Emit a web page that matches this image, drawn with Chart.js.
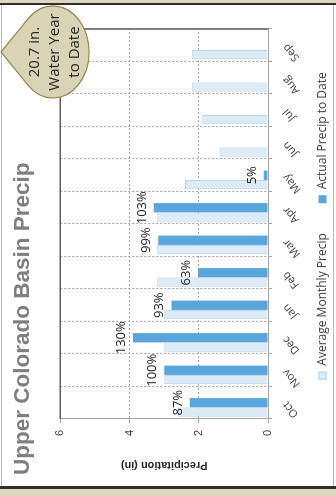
<!DOCTYPE html>
<html>
<head>
<meta charset="utf-8">
<title>Upper Colorado Basin Precip</title>
<script src="https://cdn.jsdelivr.net/npm/chart.js@4.4.1/dist/chart.umd.min.js"></script>
<style>
  html, body { margin: 0; padding: 0; background: #fff; overflow: hidden; }
  /* chart is laid out landscape and turned a quarter to stand in the portrait slot */
  #wrap {
    position: absolute; left: 0; top: 0;
    width: 496px; height: 336px;
    transform-origin: 0 0;
    transform: translate(0, 496px) rotate(-90deg);
  }
</style>
</head>
<body>
<div id="wrap"><canvas id="chart" width="496" height="336"></canvas></div>
<script>
// ─── Data ───────────────────────────────────────────────────
const MONTHS        = ["Oct", "Nov", "Dec", "Jan", "Feb", "Mar", "Apr", "May", "Jun", "Jul", "Aug", "Sep"];
const AVG_PRECIP    = [2.6, 3.0, 3.0, 3.0, 3.2, 3.2, 3.2, 2.4, 1.4, 1.9, 2.2, 2.2];
const ACTUAL_PRECIP = [2.26, 3.0, 3.9, 2.79, 2.02, 3.17, 3.3, 0.12, null, null, null, null];
const Y_TICKS       = [0, 2, 4, 6];
const CALLOUT_LINES = ["20.7 in.", "Water Year", "to Date"];

// percent of average, written over each actual bar
const PCT_LABELS = ACTUAL_PRECIP.map((v, i) =>
  v == null ? null : Math.round(v / AVG_PRECIP[i] * 100) + "%");

const GRID_GREY = "#a6a6a6";
const TEXT_DARK = "#404040";

// ─── Plugins ────────────────────────────────────────────────
const panel = {
  id: "panel",
  beforeDraw(chart) {
    const { ctx, width, height } = chart;
    ctx.save();
    ctx.fillStyle = "#fff";
    ctx.fillRect(0, 0, width, height);
    ctx.fillStyle = "#dcd7c1";
    ctx.fillRect(0, 0, 8, height);
    ctx.fillRect(width - 4, 0, 4, height);
    ctx.fillStyle = "#2e2e2e";
    ctx.fillRect(7, 0, 3, height);
    ctx.fillRect(width - 5, 0, 2, height);
    ctx.fillStyle = "#bdbdbd";
    ctx.fillRect(10, 1, width - 15, 1);
    ctx.fillRect(10, height - 3, width - 15, 1);
    ctx.restore();
  }
};

const plotFrame = {
  id: "plotFrame",
  beforeDatasetsDraw(chart) {
    const { ctx, chartArea: a } = chart;
    ctx.save();
    ctx.strokeStyle = "#5f5f5f";
    ctx.lineWidth = 1.5;
    ctx.beginPath();
    ctx.moveTo(a.left, a.top);
    ctx.lineTo(a.right, a.top);
    ctx.lineTo(a.right, a.bottom);
    ctx.stroke();
    ctx.restore();
  }
};

const pctLabels = {
  id: "pctLabels",
  afterDatasetsDraw(chart) {
    const { ctx } = chart;
    const meta = chart.getDatasetMeta(1);
    ctx.save();
    ctx.font = "13px 'Open Sans'";
    ctx.fillStyle = "#262626";
    ctx.textAlign = "center";
    ctx.textBaseline = "alphabetic";
    meta.data.forEach((bar, i) => {
      if (PCT_LABELS[i]) ctx.fillText(PCT_LABELS[i], bar.x, bar.y - 8);
    });
    ctx.restore();
  }
};

// legend row under the month labels, centred on the plot
const bottomLegend = {
  id: "bottomLegend",
  afterDraw(chart) {
    const { ctx, chartArea: a } = chart;
    const items = chart.data.datasets.slice(0, 2);
    const gap = 30, y = 322.5;
    ctx.save();
    ctx.font = "12px 'Open Sans'";
    const widths = items.map(ds => 14 + ctx.measureText(ds.label).width);
    const total = widths.reduce((s, w) => s + w, 0) + gap * (items.length - 1);
    let x = (a.left + a.right - total) / 2 - 2;
    items.forEach((ds, i) => {
      ctx.fillStyle = ds.backgroundColor;
      ctx.fillRect(x, y - 4, 8, 8);
      if (ds.borderWidth) {
        ctx.strokeStyle = ds.borderColor;
        ctx.lineWidth = 1;
        ctx.strokeRect(x + 0.5, y - 3.5, 7, 7);
      }
      ctx.fillStyle = TEXT_DARK;
      ctx.textAlign = "left";
      ctx.textBaseline = "middle";
      ctx.fillText(ds.label, x + 14, y);
      x += widths[i] + gap;
    });
    ctx.restore();
  }
};

// teardrop callout in the top right corner
const callout = {
  id: "callout",
  afterDraw(chart) {
    const { ctx } = chart;
    const cx = 444, cy = 53, rx = 46, ry = 36, tipY = 1;
    const t1 = Math.asin(-ry / (cy - tipY));
    ctx.save();
    ctx.beginPath();
    ctx.moveTo(cx, tipY);
    ctx.lineTo(cx + rx * Math.cos(t1), cy + ry * Math.sin(t1));
    ctx.ellipse(cx, cy, rx, ry, 0, t1, Math.PI - t1, false);
    ctx.closePath();
    ctx.fillStyle = "#d9d4b6";
    ctx.fill();
    ctx.strokeStyle = "#948a54";
    ctx.lineWidth = 1.25;
    ctx.stroke();

    ctx.font = "15px 'Open Sans'";
    ctx.fillStyle = "#262626";
    ctx.textAlign = "center";
    ctx.textBaseline = "middle";
    CALLOUT_LINES.forEach((line, i) => ctx.fillText(line, cx, 35 + i * 20));
    ctx.restore();
  }
};

// ─── Chart ──────────────────────────────────────────────────
new Chart(document.getElementById("chart"), {
  type: "bar",
  data: {
    labels: MONTHS,
    datasets: [
      { label: "Average Monthly Precip", data: AVG_PRECIP,
        backgroundColor: "#ddebf7", borderColor: "#b0d2eb", borderWidth: 1 },
      { label: "Actual Precip to Date", data: ACTUAL_PRECIP,
        backgroundColor: "#5ba5dd", borderColor: "#5ba5dd", borderWidth: 0 },
      // empty third slot, keeps the pair off-centre in each month
      { label: "spacer", data: MONTHS.map(() => null) }
    ]
  },
  options: {
    responsive: false,
    animation: false,
    devicePixelRatio: 1,
    datasets: { bar: { categoryPercentage: 0.86, barPercentage: 1 } },
    layout: { padding: { left: 21, right: 29, top: 0, bottom: 28 } },
    plugins: {
      tooltip: { enabled: false },
      legend: { display: false },
      title: {
        display: true,
        text: "Upper Colorado Basin Precip",
        align: "start",
        color: "#7f7f7f",
        font: { family: "Liberation Sans", size: 22.5, weight: "bold" },
        padding: { top: 9, bottom: 24.3 }
      }
    },
    scales: {
      x: {
        offset: true,
        afterFit: s => { s.height = 40; s.paddingLeft = 0; s.paddingRight = 0; },
        ticks: {
          minRotation: 40, maxRotation: 40, padding: 8,
          color: TEXT_DARK,
          font: { family: "Open Sans", size: 11 }
        },
        grid: { offset: true, color: GRID_GREY, tickLength: 4, tickColor: GRID_GREY, tickBorderDash: [] },
        border: { color: GRID_GREY, dash: [2, 2] }
      },
      y: {
        min: 0, max: 6,
        afterBuildTicks: s => { s.ticks = Y_TICKS.map(v => ({ value: v })); },
        afterFit: s => { s.width = 56; },
        ticks: {
          padding: 7,
          color: TEXT_DARK,
          font: { family: "Liberation Sans", size: 11 }
        },
        grid: { color: GRID_GREY, tickLength: 4, tickColor: GRID_GREY, tickBorderDash: [] },
        border: { color: GRID_GREY, dash: [2, 2] },
        title: {
          display: true,
          text: "Precipitation (in)",
          color: "#262626",
          padding: { top: 3.4, bottom: 0 },
          font: { family: "Liberation Sans", size: 11, weight: "bold" }
        }
      }
    }
  },
  plugins: [panel, plotFrame, pctLabels, bottomLegend, callout]
});
</script>
</body>
</html>
